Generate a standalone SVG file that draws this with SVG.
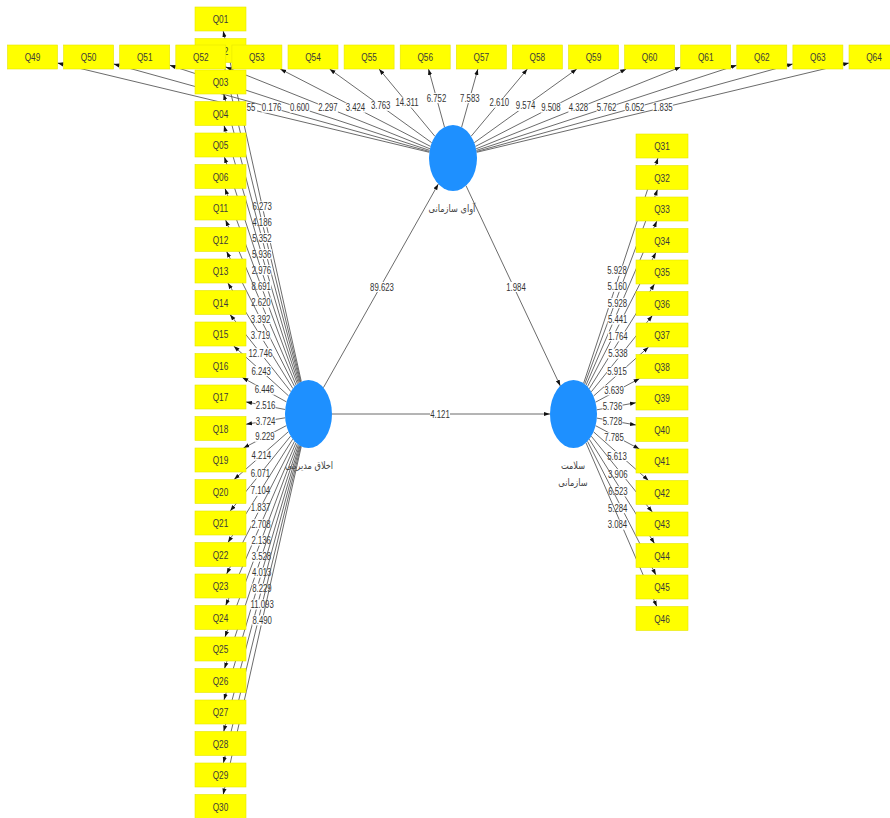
<svg xmlns="http://www.w3.org/2000/svg" width="890" height="818" viewBox="0 0 890 818">
<style>
.ln{stroke:#5a5a5a;stroke-width:0.9;fill:none;marker-end:url(#ah)}
.bg{fill:#fff}
.t{font-family:"Liberation Sans",Arial,sans-serif;font-size:10px;fill:#333;text-anchor:middle}
.ind rect{fill:#ffff00;stroke:#e6e600;stroke-width:0.6}
.ind text{font-family:"Liberation Sans",Arial,sans-serif;font-size:11px;fill:#3a3a3a;text-anchor:middle}
.lv ellipse{fill:#1e90ff}
.lv text{font-family:"DejaVu Sans","Noto Sans",sans-serif;font-size:10px;fill:#444;text-anchor:middle}
</style>
<defs>
<marker id="ah" viewBox="0 0 10 10" refX="10" refY="5" markerWidth="6" markerHeight="6" markerUnits="userSpaceOnUse" orient="auto"><path d="M0,1.5 L10,5 L0,8.5 z" fill="#111"/></marker>
</defs>
<rect width="890" height="818" fill="#fff"/>
<g id="connectors">
<!-- top latent -> Q49..Q64 -->
<line class="ln" x1="429.4" y1="152.3" x2="57.5" y2="63"/><g transform="translate(251 107.7)"><rect class="bg" x="-6" y="-5" width="12" height="10"/><text class="t" y="3.5" transform="scale(.78 1)">55</text></g>
<line class="ln" x1="429.5" y1="151.5" x2="113.6" y2="63.9"/><g transform="translate(271.6 107.7)"><rect class="bg" x="-10" y="-5" width="20" height="10"/><text class="t" y="3.5" transform="scale(.78 1)">0.176</text></g>
<line class="ln" x1="429.7" y1="150.4" x2="169.7" y2="65.2"/><g transform="translate(299.7 107.8)"><rect class="bg" x="-10" y="-5" width="20" height="10"/><text class="t" y="3.5" transform="scale(.78 1)">0.600</text></g>
<line class="ln" x1="430" y1="148.8" x2="225.8" y2="67"/><g transform="translate(327.9 107.9)"><rect class="bg" x="-10" y="-5" width="20" height="10"/><text class="t" y="3.5" transform="scale(.78 1)">2.297</text></g>
<line class="ln" x1="430.5" y1="146.4" x2="280.2" y2="69"/><g transform="translate(355.4 107.7)"><rect class="bg" x="-10" y="-5" width="20" height="10"/><text class="t" y="3.5" transform="scale(.78 1)">3.424</text></g>
<line class="ln" x1="431.7" y1="142.7" x2="329.6" y2="69"/><g transform="translate(380.7 105.8)"><rect class="bg" x="-10" y="-5" width="20" height="10"/><text class="t" y="3.5" transform="scale(.78 1)">3.763</text></g>
<line class="ln" x1="434.9" y1="136.3" x2="379.1" y2="69"/><g transform="translate(407 102.6)"><rect class="bg" x="-12" y="-5" width="24" height="10"/><text class="t" y="3.5" transform="scale(.78 1)">14.311</text></g>
<line class="ln" x1="444.5" y1="127.1" x2="428.5" y2="69"/><g transform="translate(436.5 98.1)"><rect class="bg" x="-10" y="-5" width="20" height="10"/><text class="t" y="3.5" transform="scale(.78 1)">6.752</text></g>
<line class="ln" x1="461.6" y1="127.2" x2="477.9" y2="69"/><g transform="translate(469.8 98.1)"><rect class="bg" x="-10" y="-5" width="20" height="10"/><text class="t" y="3.5" transform="scale(.78 1)">7.583</text></g>
<line class="ln" x1="471.1" y1="136.3" x2="527.4" y2="69"/><g transform="translate(499.3 102.7)"><rect class="bg" x="-10" y="-5" width="20" height="10"/><text class="t" y="3.5" transform="scale(.78 1)">2.610</text></g>
<line class="ln" x1="474.3" y1="142.7" x2="576.8" y2="69"/><g transform="translate(525.6 105.9)"><rect class="bg" x="-10" y="-5" width="20" height="10"/><text class="t" y="3.5" transform="scale(.78 1)">9.574</text></g>
<line class="ln" x1="475.5" y1="146.4" x2="626.2" y2="69"/><g transform="translate(550.9 107.7)"><rect class="bg" x="-10" y="-5" width="20" height="10"/><text class="t" y="3.5" transform="scale(.78 1)">9.508</text></g>
<line class="ln" x1="476.1" y1="148.8" x2="680.7" y2="67"/><g transform="translate(578.4 107.9)"><rect class="bg" x="-10" y="-5" width="20" height="10"/><text class="t" y="3.5" transform="scale(.78 1)">4.328</text></g>
<line class="ln" x1="476.3" y1="150.4" x2="736.8" y2="65.2"/><g transform="translate(606.6 107.8)"><rect class="bg" x="-10" y="-5" width="20" height="10"/><text class="t" y="3.5" transform="scale(.78 1)">5.762</text></g>
<line class="ln" x1="476.5" y1="151.5" x2="792.9" y2="63.9"/><g transform="translate(634.7 107.7)"><rect class="bg" x="-10" y="-5" width="20" height="10"/><text class="t" y="3.5" transform="scale(.78 1)">6.052</text></g>
<line class="ln" x1="476.6" y1="152.3" x2="849" y2="63"/><g transform="translate(662.8 107.7)"><rect class="bg" x="-10" y="-5" width="20" height="10"/><text class="t" y="3.5" transform="scale(.78 1)">1.835</text></g>
<!-- left latent -> Q01..Q30 -->
<line class="ln" x1="301.3" y1="381.6" x2="223.2" y2="31"/><g transform="translate(262.2 206.3)"><rect class="bg" x="-10" y="-5" width="20" height="10"/><text class="t" y="3.5" transform="scale(.78 1)">6.273</text></g>
<line class="ln" x1="300.7" y1="381.9" x2="223.4" y2="62.5"/><g transform="translate(262.1 222.2)"><rect class="bg" x="-10" y="-5" width="20" height="10"/><text class="t" y="3.5" transform="scale(.78 1)">4.186</text></g>
<line class="ln" x1="300.1" y1="382.3" x2="223.7" y2="94"/><g transform="translate(261.9 238.1)"><rect class="bg" x="-10" y="-5" width="20" height="10"/><text class="t" y="3.5" transform="scale(.78 1)">5.352</text></g>
<line class="ln" x1="299.3" y1="382.7" x2="224" y2="125.5"/><g transform="translate(261.7 254.1)"><rect class="bg" x="-10" y="-5" width="20" height="10"/><text class="t" y="3.5" transform="scale(.78 1)">5.936</text></g>
<line class="ln" x1="298.4" y1="383.3" x2="224.4" y2="157"/><g transform="translate(261.4 270.1)"><rect class="bg" x="-10" y="-5" width="20" height="10"/><text class="t" y="3.5" transform="scale(.78 1)">2.976</text></g>
<line class="ln" x1="297.4" y1="384" x2="225" y2="188.5"/><g transform="translate(261.2 286.3)"><rect class="bg" x="-10" y="-5" width="20" height="10"/><text class="t" y="3.5" transform="scale(.78 1)">8.691</text></g>
<line class="ln" x1="296.1" y1="385.1" x2="225.6" y2="220"/><g transform="translate(260.9 302.5)"><rect class="bg" x="-10" y="-5" width="20" height="10"/><text class="t" y="3.5" transform="scale(.78 1)">2.620</text></g>
<line class="ln" x1="294.6" y1="386.5" x2="226.6" y2="251.5"/><g transform="translate(260.6 319)"><rect class="bg" x="-10" y="-5" width="20" height="10"/><text class="t" y="3.5" transform="scale(.78 1)">3.392</text></g>
<line class="ln" x1="292.9" y1="388.6" x2="227.9" y2="283"/><g transform="translate(260.4 335.8)"><rect class="bg" x="-10" y="-5" width="20" height="10"/><text class="t" y="3.5" transform="scale(.78 1)">3.719</text></g>
<line class="ln" x1="290.8" y1="391.6" x2="230" y2="314.5"/><g transform="translate(260.4 353.1)"><rect class="bg" x="-12" y="-5" width="24" height="10"/><text class="t" y="3.5" transform="scale(.78 1)">12.746</text></g>
<line class="ln" x1="288.6" y1="395.9" x2="233.7" y2="346"/><g transform="translate(261.2 371)"><rect class="bg" x="-10" y="-5" width="20" height="10"/><text class="t" y="3.5" transform="scale(.78 1)">6.243</text></g>
<line class="ln" x1="286.5" y1="401.9" x2="242.3" y2="377.5"/><g transform="translate(264.4 389.7)"><rect class="bg" x="-10" y="-5" width="20" height="10"/><text class="t" y="3.5" transform="scale(.78 1)">6.446</text></g>
<line class="ln" x1="285.2" y1="409.5" x2="246" y2="401.9"/><g transform="translate(265.6 405.7)"><rect class="bg" x="-10" y="-5" width="20" height="10"/><text class="t" y="3.5" transform="scale(.78 1)">2.516</text></g>
<line class="ln" x1="285.2" y1="417.8" x2="246" y2="424.3"/><g transform="translate(265.6 421.1)"><rect class="bg" x="-10" y="-5" width="20" height="10"/><text class="t" y="3.5" transform="scale(.78 1)">3.724</text></g>
<line class="ln" x1="286.4" y1="425.6" x2="243.5" y2="448"/><g transform="translate(264.9 436.8)"><rect class="bg" x="-10" y="-5" width="20" height="10"/><text class="t" y="3.5" transform="scale(.78 1)">9.229</text></g>
<line class="ln" x1="288.4" y1="431.7" x2="234.1" y2="479.5"/><g transform="translate(261.3 455.6)"><rect class="bg" x="-10" y="-5" width="20" height="10"/><text class="t" y="3.5" transform="scale(.78 1)">4.214</text></g>
<line class="ln" x1="290.6" y1="436.1" x2="230.2" y2="511"/><g transform="translate(260.4 473.6)"><rect class="bg" x="-10" y="-5" width="20" height="10"/><text class="t" y="3.5" transform="scale(.78 1)">6.071</text></g>
<line class="ln" x1="292.7" y1="439.2" x2="228" y2="542.5"/><g transform="translate(260.4 490.9)"><rect class="bg" x="-10" y="-5" width="20" height="10"/><text class="t" y="3.5" transform="scale(.78 1)">7.104</text></g>
<line class="ln" x1="294.5" y1="441.3" x2="226.6" y2="574"/><g transform="translate(260.6 507.7)"><rect class="bg" x="-10" y="-5" width="20" height="10"/><text class="t" y="3.5" transform="scale(.78 1)">1.837</text></g>
<line class="ln" x1="296" y1="442.8" x2="225.7" y2="605.5"/><g transform="translate(260.9 524.2)"><rect class="bg" x="-10" y="-5" width="20" height="10"/><text class="t" y="3.5" transform="scale(.78 1)">2.708</text></g>
<line class="ln" x1="297.3" y1="443.9" x2="225" y2="637"/><g transform="translate(261.2 540.5)"><rect class="bg" x="-10" y="-5" width="20" height="10"/><text class="t" y="3.5" transform="scale(.78 1)">2.136</text></g>
<line class="ln" x1="298.4" y1="444.7" x2="224.5" y2="668.5"/><g transform="translate(261.4 556.6)"><rect class="bg" x="-10" y="-5" width="20" height="10"/><text class="t" y="3.5" transform="scale(.78 1)">3.528</text></g>
<line class="ln" x1="299.3" y1="445.3" x2="224" y2="700"/><g transform="translate(261.7 572.6)"><rect class="bg" x="-10" y="-5" width="20" height="10"/><text class="t" y="3.5" transform="scale(.78 1)">4.013</text></g>
<line class="ln" x1="300" y1="445.7" x2="223.7" y2="731.5"/><g transform="translate(261.9 588.6)"><rect class="bg" x="-10" y="-5" width="20" height="10"/><text class="t" y="3.5" transform="scale(.78 1)">8.229</text></g>
<line class="ln" x1="300.7" y1="446.1" x2="223.4" y2="763"/><g transform="translate(262.1 604.5)"><rect class="bg" x="-12" y="-5" width="24" height="10"/><text class="t" y="3.5" transform="scale(.78 1)">11.093</text></g>
<line class="ln" x1="301.3" y1="446.3" x2="223.2" y2="794.5"/><g transform="translate(262.2 620.4)"><rect class="bg" x="-10" y="-5" width="20" height="10"/><text class="t" y="3.5" transform="scale(.78 1)">8.490</text></g>
<!-- right latent -> Q31..Q46 -->
<line class="ln" x1="583.6" y1="383.3" x2="658" y2="158"/><g transform="translate(617 270.7)"><rect class="bg" x="-10" y="-5" width="20" height="10"/><text class="t" y="3.5" transform="scale(.78 1)">5.928</text></g>
<line class="ln" x1="584.7" y1="384.1" x2="657.5" y2="189.5"/><g transform="translate(617.2 286.8)"><rect class="bg" x="-10" y="-5" width="20" height="10"/><text class="t" y="3.5" transform="scale(.78 1)">5.160</text></g>
<line class="ln" x1="586" y1="385.2" x2="656.8" y2="221"/><g transform="translate(617.4 303.1)"><rect class="bg" x="-10" y="-5" width="20" height="10"/><text class="t" y="3.5" transform="scale(.78 1)">5.928</text></g>
<line class="ln" x1="587.5" y1="386.6" x2="655.9" y2="252.5"/><g transform="translate(617.7 319.6)"><rect class="bg" x="-10" y="-5" width="20" height="10"/><text class="t" y="3.5" transform="scale(.78 1)">5.441</text></g>
<line class="ln" x1="589.2" y1="388.8" x2="654.5" y2="284"/><g transform="translate(617.9 336.4)"><rect class="bg" x="-10" y="-5" width="20" height="10"/><text class="t" y="3.5" transform="scale(.78 1)">1.764</text></g>
<line class="ln" x1="591.3" y1="391.8" x2="652.4" y2="315.5"/><g transform="translate(617.9 353.6)"><rect class="bg" x="-10" y="-5" width="20" height="10"/><text class="t" y="3.5" transform="scale(.78 1)">5.338</text></g>
<line class="ln" x1="593.5" y1="396.1" x2="648.6" y2="347"/><g transform="translate(617 371.6)"><rect class="bg" x="-10" y="-5" width="20" height="10"/><text class="t" y="3.5" transform="scale(.78 1)">5.915</text></g>
<line class="ln" x1="595.5" y1="402.2" x2="639.6" y2="378.5"/><g transform="translate(614 390.3)"><rect class="bg" x="-10" y="-5" width="20" height="10"/><text class="t" y="3.5" transform="scale(.78 1)">3.639</text></g>
<line class="ln" x1="596.8" y1="409.8" x2="636" y2="402.7"/><g transform="translate(612.5 406.2)"><rect class="bg" x="-10" y="-5" width="20" height="10"/><text class="t" y="3.5" transform="scale(.78 1)">5.736</text></g>
<line class="ln" x1="596.8" y1="418.1" x2="636" y2="425"/><g transform="translate(612.5 421.5)"><rect class="bg" x="-10" y="-5" width="20" height="10"/><text class="t" y="3.5" transform="scale(.78 1)">5.728</text></g>
<line class="ln" x1="595.6" y1="425.7" x2="639.4" y2="449"/><g transform="translate(614 437.4)"><rect class="bg" x="-10" y="-5" width="20" height="10"/><text class="t" y="3.5" transform="scale(.78 1)">7.785</text></g>
<line class="ln" x1="593.5" y1="431.8" x2="648.5" y2="480.5"/><g transform="translate(617 456.1)"><rect class="bg" x="-10" y="-5" width="20" height="10"/><text class="t" y="3.5" transform="scale(.78 1)">5.613</text></g>
<line class="ln" x1="591.3" y1="436.2" x2="652.3" y2="512"/><g transform="translate(617.8 474.1)"><rect class="bg" x="-10" y="-5" width="20" height="10"/><text class="t" y="3.5" transform="scale(.78 1)">3.906</text></g>
<line class="ln" x1="589.3" y1="439.2" x2="654.5" y2="543.5"/><g transform="translate(617.9 491.4)"><rect class="bg" x="-10" y="-5" width="20" height="10"/><text class="t" y="3.5" transform="scale(.78 1)">6.523</text></g>
<line class="ln" x1="587.5" y1="441.3" x2="655.9" y2="575"/><g transform="translate(617.7 508.2)"><rect class="bg" x="-10" y="-5" width="20" height="10"/><text class="t" y="3.5" transform="scale(.78 1)">5.284</text></g>
<line class="ln" x1="586" y1="442.8" x2="656.8" y2="606.5"/><g transform="translate(617.4 524.7)"><rect class="bg" x="-10" y="-5" width="20" height="10"/><text class="t" y="3.5" transform="scale(.78 1)">3.084</text></g>
<!-- structural paths -->
<line class="ln" x1="323.4" y1="387.7" x2="438.3" y2="184.1"/><g transform="translate(382 287)"><rect class="bg" x="-12" y="-5" width="24" height="10"/><text class="t" y="3.5" transform="scale(.78 1)">89.623</text></g>
<line class="ln" x1="466" y1="185.7" x2="560.3" y2="385.9"/><g transform="translate(516 287)"><rect class="bg" x="-10" y="-5" width="20" height="10"/><text class="t" y="3.5" transform="scale(.78 1)">1.984</text></g>
<line class="ln" x1="332" y1="414" x2="550" y2="414"/><g transform="translate(440 414)"><rect class="bg" x="-10" y="-5" width="20" height="10"/><text class="t" y="3.5" transform="scale(.78 1)">4.121</text></g>
</g>
<g id="voice" class="lv"><ellipse cx="453" cy="158" rx="24" ry="33"/><text transform="translate(452 212) scale(.82 1)">آوای سازمانی</text></g>
<g id="ethics" class="lv"><ellipse cx="308.5" cy="414" rx="23.5" ry="34"/><text transform="translate(309 469) scale(.82 1)">اخلاق مدیریتی</text></g>
<g id="health" class="lv"><ellipse cx="573.5" cy="414" rx="23.5" ry="34"/><text transform="translate(573 469) scale(.82 1)">سلامت</text><text transform="translate(573 486) scale(.82 1)">سازمانی</text></g>
<g class="ind">
<g id="Q01" transform="translate(220.5 19)"><rect x="-25.5" y="-12" width="51" height="24"/><text y="4" transform="scale(.75 1)">Q01</text></g>
<g id="Q02" transform="translate(220.5 50.5)"><rect x="-25.5" y="-12" width="51" height="24"/><text y="4" transform="scale(.75 1)">Q02</text></g>
<g id="Q03" transform="translate(220.5 82)"><rect x="-25.5" y="-12" width="51" height="24"/><text y="4" transform="scale(.75 1)">Q03</text></g>
<g id="Q04" transform="translate(220.5 113.5)"><rect x="-25.5" y="-12" width="51" height="24"/><text y="4" transform="scale(.75 1)">Q04</text></g>
<g id="Q05" transform="translate(220.5 145)"><rect x="-25.5" y="-12" width="51" height="24"/><text y="4" transform="scale(.75 1)">Q05</text></g>
<g id="Q06" transform="translate(220.5 176.5)"><rect x="-25.5" y="-12" width="51" height="24"/><text y="4" transform="scale(.75 1)">Q06</text></g>
<g id="Q11" transform="translate(220.5 208)"><rect x="-25.5" y="-12" width="51" height="24"/><text y="4" transform="scale(.75 1)">Q11</text></g>
<g id="Q12" transform="translate(220.5 239.5)"><rect x="-25.5" y="-12" width="51" height="24"/><text y="4" transform="scale(.75 1)">Q12</text></g>
<g id="Q13" transform="translate(220.5 271)"><rect x="-25.5" y="-12" width="51" height="24"/><text y="4" transform="scale(.75 1)">Q13</text></g>
<g id="Q14" transform="translate(220.5 302.5)"><rect x="-25.5" y="-12" width="51" height="24"/><text y="4" transform="scale(.75 1)">Q14</text></g>
<g id="Q15" transform="translate(220.5 334)"><rect x="-25.5" y="-12" width="51" height="24"/><text y="4" transform="scale(.75 1)">Q15</text></g>
<g id="Q16" transform="translate(220.5 365.5)"><rect x="-25.5" y="-12" width="51" height="24"/><text y="4" transform="scale(.75 1)">Q16</text></g>
<g id="Q17" transform="translate(220.5 397)"><rect x="-25.5" y="-12" width="51" height="24"/><text y="4" transform="scale(.75 1)">Q17</text></g>
<g id="Q18" transform="translate(220.5 428.5)"><rect x="-25.5" y="-12" width="51" height="24"/><text y="4" transform="scale(.75 1)">Q18</text></g>
<g id="Q19" transform="translate(220.5 460)"><rect x="-25.5" y="-12" width="51" height="24"/><text y="4" transform="scale(.75 1)">Q19</text></g>
<g id="Q20" transform="translate(220.5 491.5)"><rect x="-25.5" y="-12" width="51" height="24"/><text y="4" transform="scale(.75 1)">Q20</text></g>
<g id="Q21" transform="translate(220.5 523)"><rect x="-25.5" y="-12" width="51" height="24"/><text y="4" transform="scale(.75 1)">Q21</text></g>
<g id="Q22" transform="translate(220.5 554.5)"><rect x="-25.5" y="-12" width="51" height="24"/><text y="4" transform="scale(.75 1)">Q22</text></g>
<g id="Q23" transform="translate(220.5 586)"><rect x="-25.5" y="-12" width="51" height="24"/><text y="4" transform="scale(.75 1)">Q23</text></g>
<g id="Q24" transform="translate(220.5 617.5)"><rect x="-25.5" y="-12" width="51" height="24"/><text y="4" transform="scale(.75 1)">Q24</text></g>
<g id="Q25" transform="translate(220.5 649)"><rect x="-25.5" y="-12" width="51" height="24"/><text y="4" transform="scale(.75 1)">Q25</text></g>
<g id="Q26" transform="translate(220.5 680.5)"><rect x="-25.5" y="-12" width="51" height="24"/><text y="4" transform="scale(.75 1)">Q26</text></g>
<g id="Q27" transform="translate(220.5 712)"><rect x="-25.5" y="-12" width="51" height="24"/><text y="4" transform="scale(.75 1)">Q27</text></g>
<g id="Q28" transform="translate(220.5 743.5)"><rect x="-25.5" y="-12" width="51" height="24"/><text y="4" transform="scale(.75 1)">Q28</text></g>
<g id="Q29" transform="translate(220.5 775)"><rect x="-25.5" y="-12" width="51" height="24"/><text y="4" transform="scale(.75 1)">Q29</text></g>
<g id="Q30" transform="translate(220.5 806.5)"><rect x="-25.5" y="-12" width="51" height="24"/><text y="4" transform="scale(.75 1)">Q30</text></g>
<g id="Q49" transform="translate(32.5 57)"><rect x="-25" y="-12" width="50" height="24"/><text y="4" transform="scale(.75 1)">Q49</text></g>
<g id="Q50" transform="translate(88.6 57)"><rect x="-25" y="-12" width="50" height="24"/><text y="4" transform="scale(.75 1)">Q50</text></g>
<g id="Q51" transform="translate(144.7 57)"><rect x="-25" y="-12" width="50" height="24"/><text y="4" transform="scale(.75 1)">Q51</text></g>
<g id="Q52" transform="translate(200.8 57)"><rect x="-25" y="-12" width="50" height="24"/><text y="4" transform="scale(.75 1)">Q52</text></g>
<g id="Q53" transform="translate(256.9 57)"><rect x="-25" y="-12" width="50" height="24"/><text y="4" transform="scale(.75 1)">Q53</text></g>
<g id="Q54" transform="translate(313 57)"><rect x="-25" y="-12" width="50" height="24"/><text y="4" transform="scale(.75 1)">Q54</text></g>
<g id="Q55" transform="translate(369.1 57)"><rect x="-25" y="-12" width="50" height="24"/><text y="4" transform="scale(.75 1)">Q55</text></g>
<g id="Q56" transform="translate(425.2 57)"><rect x="-25" y="-12" width="50" height="24"/><text y="4" transform="scale(.75 1)">Q56</text></g>
<g id="Q57" transform="translate(481.3 57)"><rect x="-25" y="-12" width="50" height="24"/><text y="4" transform="scale(.75 1)">Q57</text></g>
<g id="Q58" transform="translate(537.4 57)"><rect x="-25" y="-12" width="50" height="24"/><text y="4" transform="scale(.75 1)">Q58</text></g>
<g id="Q59" transform="translate(593.5 57)"><rect x="-25" y="-12" width="50" height="24"/><text y="4" transform="scale(.75 1)">Q59</text></g>
<g id="Q60" transform="translate(649.6 57)"><rect x="-25" y="-12" width="50" height="24"/><text y="4" transform="scale(.75 1)">Q60</text></g>
<g id="Q61" transform="translate(705.7 57)"><rect x="-25" y="-12" width="50" height="24"/><text y="4" transform="scale(.75 1)">Q61</text></g>
<g id="Q62" transform="translate(761.8 57)"><rect x="-25" y="-12" width="50" height="24"/><text y="4" transform="scale(.75 1)">Q62</text></g>
<g id="Q63" transform="translate(817.9 57)"><rect x="-25" y="-12" width="50" height="24"/><text y="4" transform="scale(.75 1)">Q63</text></g>
<g id="Q64" transform="translate(874 57)"><rect x="-25" y="-12" width="50" height="24"/><text y="4" transform="scale(.75 1)">Q64</text></g>
<g id="Q31" transform="translate(662 146)"><rect x="-26" y="-12" width="52" height="24"/><text y="4" transform="scale(.75 1)">Q31</text></g>
<g id="Q32" transform="translate(662 177.5)"><rect x="-26" y="-12" width="52" height="24"/><text y="4" transform="scale(.75 1)">Q32</text></g>
<g id="Q33" transform="translate(662 209)"><rect x="-26" y="-12" width="52" height="24"/><text y="4" transform="scale(.75 1)">Q33</text></g>
<g id="Q34" transform="translate(662 240.5)"><rect x="-26" y="-12" width="52" height="24"/><text y="4" transform="scale(.75 1)">Q34</text></g>
<g id="Q35" transform="translate(662 272)"><rect x="-26" y="-12" width="52" height="24"/><text y="4" transform="scale(.75 1)">Q35</text></g>
<g id="Q36" transform="translate(662 303.5)"><rect x="-26" y="-12" width="52" height="24"/><text y="4" transform="scale(.75 1)">Q36</text></g>
<g id="Q37" transform="translate(662 335)"><rect x="-26" y="-12" width="52" height="24"/><text y="4" transform="scale(.75 1)">Q37</text></g>
<g id="Q38" transform="translate(662 366.5)"><rect x="-26" y="-12" width="52" height="24"/><text y="4" transform="scale(.75 1)">Q38</text></g>
<g id="Q39" transform="translate(662 398)"><rect x="-26" y="-12" width="52" height="24"/><text y="4" transform="scale(.75 1)">Q39</text></g>
<g id="Q40" transform="translate(662 429.5)"><rect x="-26" y="-12" width="52" height="24"/><text y="4" transform="scale(.75 1)">Q40</text></g>
<g id="Q41" transform="translate(662 461)"><rect x="-26" y="-12" width="52" height="24"/><text y="4" transform="scale(.75 1)">Q41</text></g>
<g id="Q42" transform="translate(662 492.5)"><rect x="-26" y="-12" width="52" height="24"/><text y="4" transform="scale(.75 1)">Q42</text></g>
<g id="Q43" transform="translate(662 524)"><rect x="-26" y="-12" width="52" height="24"/><text y="4" transform="scale(.75 1)">Q43</text></g>
<g id="Q44" transform="translate(662 555.5)"><rect x="-26" y="-12" width="52" height="24"/><text y="4" transform="scale(.75 1)">Q44</text></g>
<g id="Q45" transform="translate(662 587)"><rect x="-26" y="-12" width="52" height="24"/><text y="4" transform="scale(.75 1)">Q45</text></g>
<g id="Q46" transform="translate(662 618.5)"><rect x="-26" y="-12" width="52" height="24"/><text y="4" transform="scale(.75 1)">Q46</text></g>
</g>
</svg>
